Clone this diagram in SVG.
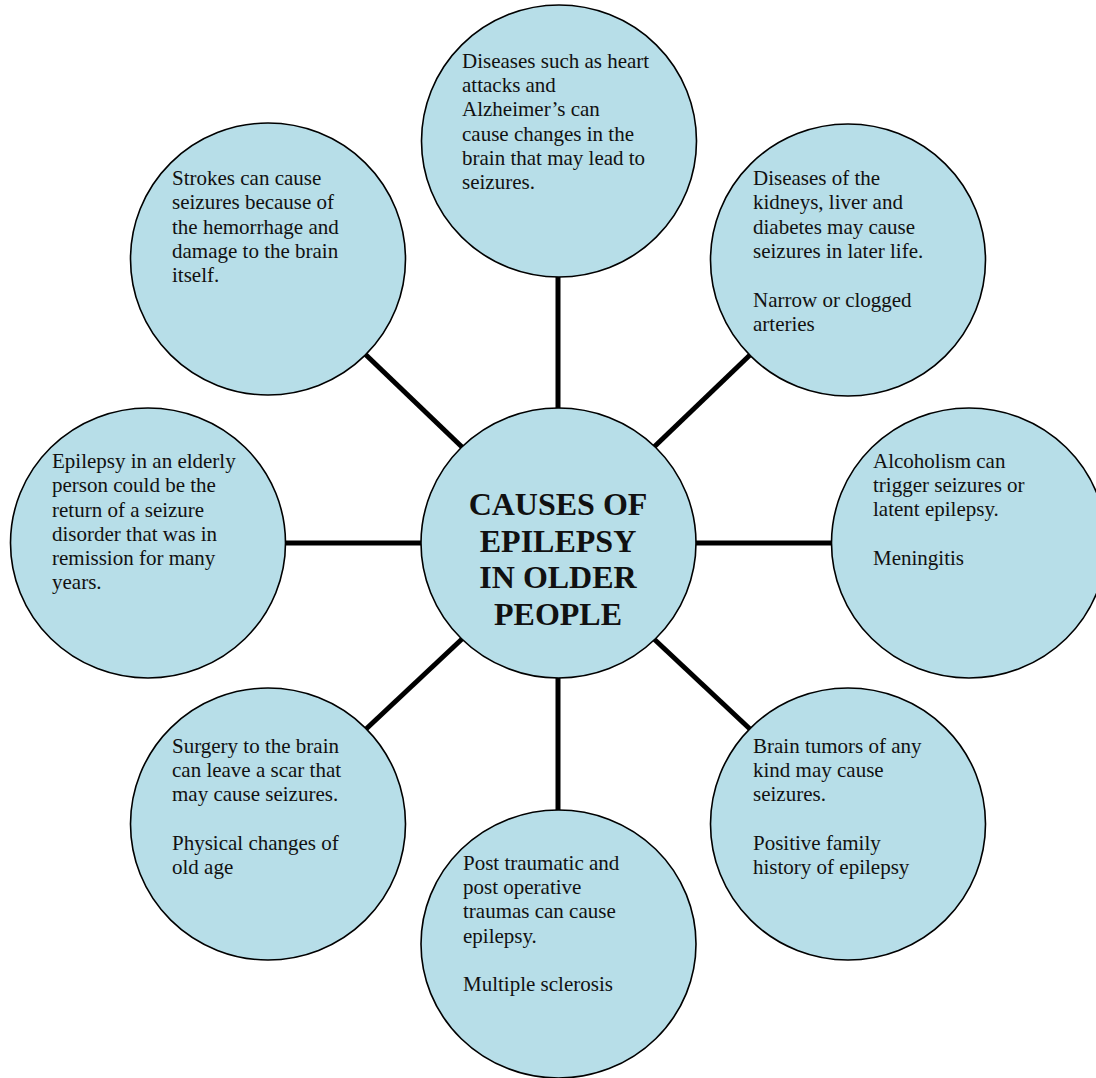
<svg xmlns="http://www.w3.org/2000/svg" width="1096" height="1078" viewBox="0 0 1096 1078">
<style>
.n{fill:#B7DEE8;stroke:#000;stroke-width:1.6}
.t{font-family:"Liberation Serif","Times New Roman",serif;font-size:21px;fill:#111}
.h{font-family:"Liberation Serif","Times New Roman",serif;font-size:32px;font-weight:bold;fill:#111;text-anchor:middle}
.c{stroke:#000;stroke-width:5;fill:none}
</style>
<rect width="1096" height="1078" fill="#fff"/>
<g id="connectors">
<line class="c" x1="558" y1="277" x2="558" y2="408"/>
<line class="c" x1="558" y1="677" x2="558" y2="810"/>
<line class="c" x1="286" y1="543" x2="421" y2="543"/>
<line class="c" x1="696" y1="543" x2="832" y2="543"/>
<line class="c" x1="365" y1="354" x2="462" y2="447"/>
<line class="c" x1="751" y1="354" x2="654" y2="447"/>
<line class="c" x1="365" y1="730" x2="462" y2="639"/>
<line class="c" x1="751" y1="730" x2="654" y2="639"/>
</g>
<g id="center">
<ellipse class="n" cx="558.5" cy="543" rx="137.5" ry="135"/>
<text class="h" x="558" y="515">CAUSES OF</text>
<text class="h" x="558" y="552">EPILEPSY</text>
<text class="h" x="558" y="588">IN OLDER</text>
<text class="h" x="558" y="625">PEOPLE</text>
</g>
<g id="top">
<ellipse class="n" cx="559" cy="141" rx="137.5" ry="136"/>
<text class="t" x="462" y="68">Diseases such as heart</text>
<text class="t" x="462" y="92">attacks and</text>
<text class="t" x="462" y="116">Alzheimer’s can</text>
<text class="t" x="462" y="141">cause changes in the</text>
<text class="t" x="462" y="165">brain that may lead to</text>
<text class="t" x="462" y="189">seizures.</text>
</g>
<g id="top-left">
<ellipse class="n" cx="268" cy="259" rx="137.5" ry="136"/>
<text class="t" x="172" y="185">Strokes can cause</text>
<text class="t" x="172" y="209">seizures because of</text>
<text class="t" x="172" y="234">the hemorrhage and</text>
<text class="t" x="172" y="258">damage to the brain</text>
<text class="t" x="172" y="282">itself.</text>
</g>
<g id="top-right">
<ellipse class="n" cx="848" cy="260" rx="137.5" ry="136"/>
<text class="t" x="753" y="185">Diseases of the</text>
<text class="t" x="753" y="209">kidneys, liver and</text>
<text class="t" x="753" y="234">diabetes may cause</text>
<text class="t" x="753" y="258">seizures in later life.</text>
<text class="t" x="753" y="307">Narrow or clogged</text>
<text class="t" x="753" y="331">arteries</text>
</g>
<g id="left">
<ellipse class="n" cx="148" cy="543" rx="137.5" ry="135"/>
<text class="t" x="52" y="468">Epilepsy in an elderly</text>
<text class="t" x="52" y="492">person could be the</text>
<text class="t" x="52" y="517">return of a seizure</text>
<text class="t" x="52" y="541">disorder that was in</text>
<text class="t" x="52" y="565">remission for many</text>
<text class="t" x="52" y="589">years.</text>
</g>
<g id="right">
<ellipse class="n" cx="969" cy="543" rx="137.5" ry="135"/>
<text class="t" x="873" y="468">Alcoholism can</text>
<text class="t" x="873" y="492">trigger seizures or</text>
<text class="t" x="873" y="516">latent epilepsy.</text>
<text class="t" x="873" y="565">Meningitis</text>
</g>
<g id="bottom-left">
<ellipse class="n" cx="268" cy="824" rx="137.5" ry="136"/>
<text class="t" x="172" y="753">Surgery to the brain</text>
<text class="t" x="172" y="777">can leave a scar that</text>
<text class="t" x="172" y="801">may cause seizures.</text>
<text class="t" x="172" y="850">Physical changes of</text>
<text class="t" x="172" y="874">old age</text>
</g>
<g id="bottom-right">
<ellipse class="n" cx="848" cy="824" rx="137.5" ry="136"/>
<text class="t" x="753" y="753">Brain tumors of any</text>
<text class="t" x="753" y="777">kind may cause</text>
<text class="t" x="753" y="801">seizures.</text>
<text class="t" x="753" y="850">Positive family</text>
<text class="t" x="753" y="874">history of epilepsy</text>
</g>
<g id="bottom">
<ellipse class="n" cx="558.5" cy="944" rx="137.5" ry="134"/>
<text class="t" x="463" y="870">Post traumatic and</text>
<text class="t" x="463" y="894">post operative</text>
<text class="t" x="463" y="918">traumas can cause</text>
<text class="t" x="463" y="943">epilepsy.</text>
<text class="t" x="463" y="991">Multiple sclerosis</text>
</g>
</svg>
